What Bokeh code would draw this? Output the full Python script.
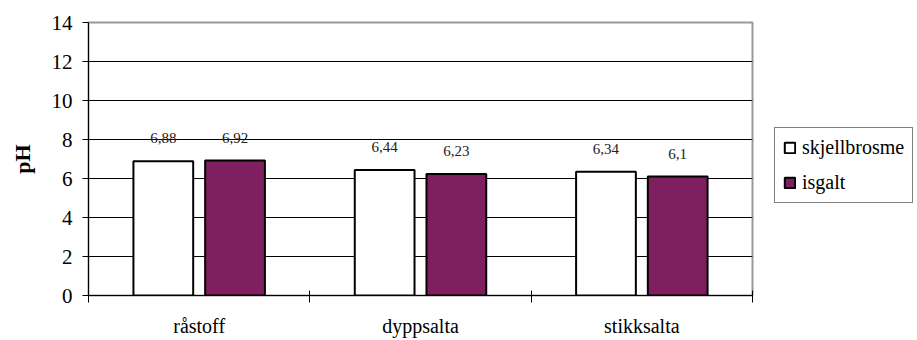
import numpy as np
from bokeh.plotting import figure
from bokeh.models import (ColumnDataSource, Range1d, FixedTicker, CustomJSTickFormatter,
                          Legend, LegendItem)
from bokeh.core.properties import value
from bokeh.embed import file_html
from bokeh.resources import INLINE

categories = ["råstoff", "dyppsalta", "stikksalta"]
skjellbrosme = [6.88, 6.44, 6.34]
isgalt = [6.92, 6.23, 6.1]
y_ticks = [0, 2, 4, 6, 8, 10, 12, 14]
series_names = ["skjellbrosme", "isgalt"]

FONT = "Liberation Serif"
LFONT = "serif"
PURPLE = "#7F1F5F"

centers = np.arange(len(categories)) + 0.5
offset = 0.162
bar_w = 0.27

def fmt(v):
    return ("%g" % v).replace(".", ",")

src1 = ColumnDataSource(dict(x=centers - offset, top=skjellbrosme,
                             lab=[fmt(v) for v in skjellbrosme]))
src2 = ColumnDataSource(dict(x=centers + offset, top=isgalt,
                             lab=[fmt(v) for v in isgalt]))

p = figure(frame_width=664, frame_height=273, output_backend="svg", toolbar_location=None,
           x_range=Range1d(0, len(categories)), y_range=Range1d(0, 14),
           min_border_left=88, min_border_right=0, min_border_top=22, min_border_bottom=43)
p.background_fill_color = "white"
p.border_fill_color = "white"
p.outline_line_color = "#999999"
p.outline_line_width = 2

r1 = p.vbar(x="x", top="top", width=bar_w, source=src1, fill_color="white",
            line_color="black", line_width=2)
r2 = p.vbar(x="x", top="top", width=bar_w, source=src2, fill_color=PURPLE,
            line_color="black", line_width=2)

for s in (src1, src2):
    p.text(x="x", y="top", text="lab", source=s, text_align="center",
           text_baseline="middle", y_offset=-23, text_font=value(FONT),
           text_font_size="15px", text_color="#222222")

# y axis
p.yaxis.ticker = FixedTicker(ticks=y_ticks)
p.yaxis.major_tick_out = 6
p.yaxis.major_tick_in = 0
p.yaxis.minor_tick_line_color = None
p.yaxis.major_label_standoff = 10
p.yaxis.major_label_text_font = LFONT
p.yaxis.major_label_text_font_size = "21px"
p.yaxis.major_label_text_color = "black"
p.yaxis.axis_line_color = "black"
p.yaxis.axis_label = "pH"
p.yaxis.axis_label_text_font = FONT
p.yaxis.axis_label_text_font_size = "22px"
p.yaxis.axis_label_text_font_style = "bold"
p.yaxis.axis_label_text_color = "black"
p.yaxis.axis_label_standoff = 14

# x axis
p.xaxis.ticker = FixedTicker(ticks=list(centers),
                             minor_ticks=list(np.arange(len(categories) + 1)))
p.xaxis.formatter = CustomJSTickFormatter(args=dict(cats=categories),
                                          code="return cats[Math.floor(tick)];")
p.xaxis.major_tick_out = 0
p.xaxis.major_tick_in = 0
p.xaxis.minor_tick_out = 7
p.xaxis.minor_tick_in = 5
p.xaxis.minor_tick_line_color = "black"
p.xaxis.major_label_standoff = 12
p.xaxis.major_label_text_font = LFONT
p.xaxis.major_label_text_font_size = "20px"
p.xaxis.major_label_text_color = "black"
p.xaxis.axis_line_color = "black"

# grid
p.xgrid.grid_line_color = None
p.ygrid.ticker = FixedTicker(ticks=y_ticks[1:-1])
p.ygrid.grid_line_color = "black"
p.ygrid.grid_line_width = 1

legend = Legend(items=[LegendItem(label=series_names[0], renderers=[r1]),
                       LegendItem(label=series_names[1], renderers=[r2])],
                location=(22, 92), orientation="vertical",
                label_text_font=LFONT, label_text_font_size="20px",
                label_text_color="black")
legend.border_line_color = "black"
legend.border_line_width = 1
legend.background_fill_color = "white"
legend.background_fill_alpha = 1
legend.glyph_width = 13
legend.glyph_height = 13
legend.label_standoff = 6
legend.padding = 8
legend.spacing = 12
legend.margin = 0
p.add_layout(legend, "right")
p.min_border_right = 165

open("out.html", "w").write(file_html(p, INLINE))
